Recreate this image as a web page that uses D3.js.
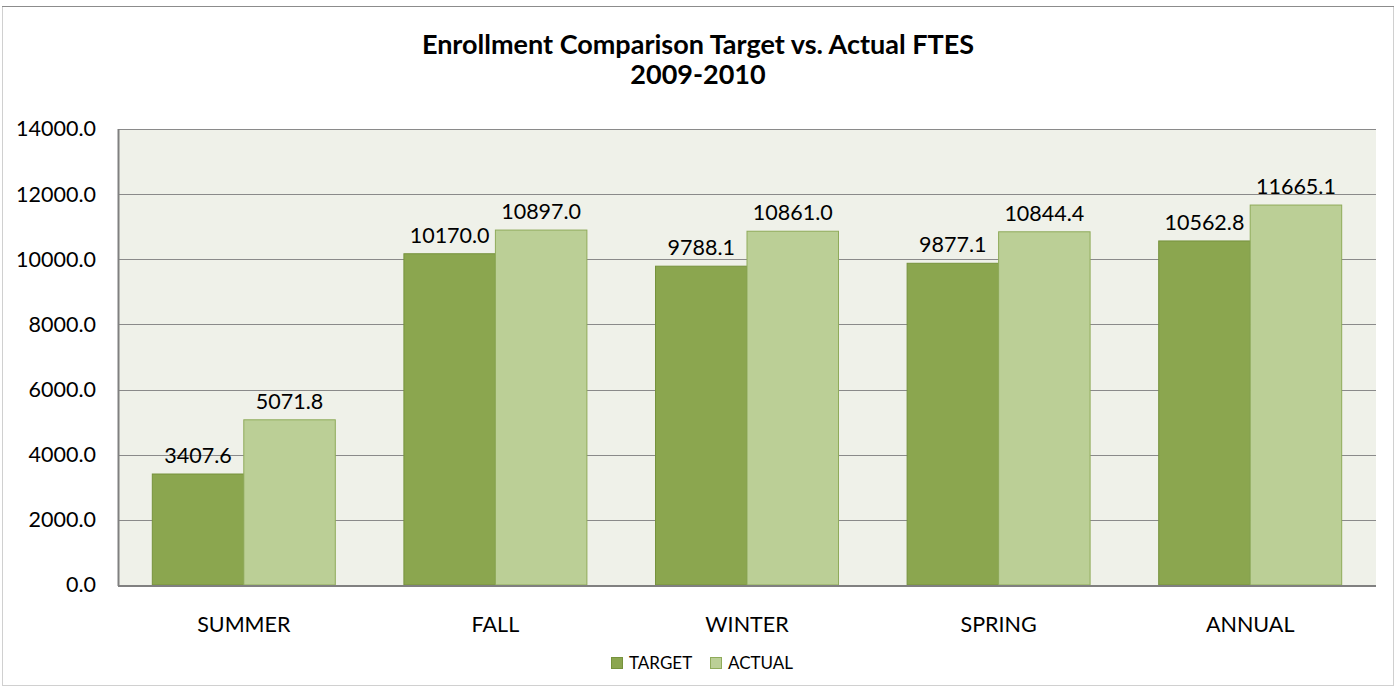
<!DOCTYPE html>
<html><head><meta charset="utf-8">
<script src="https://cdn.jsdelivr.net/npm/d3@7"></script>
<style>body{margin:0;background:#fff;}svg{display:block;font-family:Lato,"Open Sans",sans-serif;}</style>
</head><body><svg id="c" width="1396" height="689"></svg>
<script>
const categories = ["SUMMER","FALL","WINTER","SPRING","ANNUAL"];
const seriesNames = ["TARGET","ACTUAL"];
const target = [3407.6, 10170.0, 9788.1, 9877.1, 10562.8];
const actual = [5071.8, 10897.0, 10861.0, 10844.4, 11665.1];
const yTicks = [0,2000,4000,6000,8000,10000,12000,14000];
const fills = {TARGET:"#8ba64f", ACTUAL:"#bbcf96"};
const strokes = {TARGET:"#76923c", ACTUAL:"#8fab5a"};
const FONT = 'Lato,"Open Sans",sans-serif';

const svg = d3.select("#c");
svg.append("rect").attr("x",2.5).attr("y",6.5).attr("width",1391).attr("height",679)
  .attr("fill","#fff").attr("stroke","#d0d0d0");
svg.append("line").attr("x1",2).attr("x2",1394).attr("y1",6.5).attr("y2",6.5).attr("stroke","#8c8c8c");

const L=118,R=1376,T=129,B=585;
const x0 = d3.scaleBand().domain(categories).range([L,R]).paddingInner(0.2727).paddingOuter(0.13635);
const x1 = d3.scaleBand().domain(seriesNames).range([0,x0.bandwidth()]);
const y = d3.scaleLinear().domain([0,14000]).range([B,T]);

svg.append("rect").attr("x",L).attr("y",T).attr("width",R-L).attr("height",B-T).attr("fill","#eff1e9");
svg.append("g").selectAll("line").data(yTicks.filter(d=>d>0)).join("line")
  .attr("x1",L).attr("x2",R).attr("y1",d=>Math.round(y(d))+0.5).attr("y2",d=>Math.round(y(d))+0.5)
  .attr("stroke","#8a8a8a");

const data = categories.map((c,i)=>({cat:c, vals:[{s:"TARGET",v:target[i]},{s:"ACTUAL",v:actual[i]}]}));
const g = svg.append("g").selectAll("g").data(data).join("g").attr("transform",d=>`translate(${x0(d.cat)},0)`);
g.selectAll("rect").data(d=>d.vals).join("rect")
  .attr("x",d=>x1(d.s)).attr("y",d=>y(d.v)).attr("width",x1.bandwidth()).attr("height",d=>B-y(d.v))
  .attr("fill",d=>fills[d.s]).attr("stroke",d=>strokes[d.s]).attr("stroke-width",1);
g.selectAll("text").data(d=>d.vals).join("text")
  .attr("x",d=>x1(d.s)+x1.bandwidth()/2).attr("y",d=>y(d.v)-11)
  .attr("text-anchor","middle").attr("font-size",21.5).attr("fill","#000")
  .text(d=>d.v.toFixed(1));

svg.append("line").attr("x1",L).attr("x2",R).attr("y1",T+0.5).attr("y2",T+0.5).attr("stroke","#8a8a8a");
svg.append("line").attr("x1",L+0.5).attr("x2",L+0.5).attr("y1",T).attr("y2",B+1).attr("stroke","#808080").attr("stroke-width",2);
svg.append("line").attr("x1",L).attr("x2",R).attr("y1",B+1).attr("y2",B+1).attr("stroke","#808080").attr("stroke-width",2);

const yAxis = d3.axisLeft(y).tickValues(yTicks).tickFormat(d=>d.toFixed(1)).tickSize(0).tickPadding(22);
const ya = svg.append("g").attr("transform",`translate(${L},0)`).call(yAxis);
ya.select(".domain").remove();
ya.selectAll("text").attr("font-size",21.5).attr("fill","#000").attr("font-family",FONT);

const xAxis = d3.axisBottom(x0).tickSize(0).tickPadding(32);
const xa = svg.append("g").attr("transform",`translate(0,${B})`).call(xAxis);
xa.select(".domain").remove();
xa.selectAll("text").attr("font-size",21.5).attr("fill","#000").attr("font-family",FONT);

svg.append("text").attr("x",698).attr("y",54).attr("text-anchor","middle").attr("font-size",27).attr("font-weight","bold")
  .text("Enrollment Comparison Target vs. Actual FTES");
svg.append("text").attr("x",698).attr("y",84).attr("text-anchor","middle").attr("font-size",27).attr("font-weight","bold")
  .text("2009-2010");

const leg = [{s:"TARGET",x:611},{s:"ACTUAL",x:710}];
const lg = svg.append("g").selectAll("g").data(leg).join("g").attr("transform",d=>`translate(${d.x},0)`);
lg.append("rect").attr("x",0.5).attr("y",657.5).attr("width",11).attr("height",11)
  .attr("fill",d=>fills[d.s]).attr("stroke",d=>strokes[d.s]);
lg.append("text").attr("x",18).attr("y",669).attr("font-size",17).text(d=>d.s);
</script></body></html>
